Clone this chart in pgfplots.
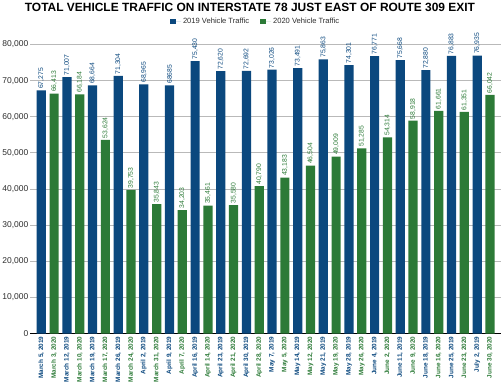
\documentclass[border=0pt]{standalone}
\usepackage{fontspec}
\setmainfont{Liberation Sans}
\usepackage{pgfplots}
\pgfplotsset{compat=1.18}
\usepackage{pgfplotstable}
\definecolor{bluec}{RGB}{11,72,126}
\definecolor{greenc}{RGB}{44,122,55}
\definecolor{gridc}{RGB}{185,185,185}
\definecolor{txtc}{RGB}{45,45,45}
\newcommand{\B}[1]{\textcolor{bluec}{#1}}
\newcommand{\G}[1]{\textcolor{greenc}{#1}}

\pgfplotstableread{
x y lab
0 67275 67,275
2 71007 71,007
4 68664 68,664
6 71304 71,304
8 68965 68,965
10 68685 68685
12 75430 75,430
14 72620 72,620
16 72692 72,692
18 73026 73,026
20 73491 73,491
22 75863 75,863
24 74301 74,301
26 76771 76,771
28 75668 75,668
30 72880 72,880
32 76883 76,883
34 76935 76,935
}\dataA

\pgfplotstableread{
x y lab
1 66413 66,413
3 66184 66,184
5 53624 53,624
7 39753 39,753
9 35843 35,843
11 34203 34,203
13 35461 35,461
15 35580 35,580
17 40790 40,790
19 43183 43,183
21 46504 46,504
23 49009 49,009
25 51285 51,285
27 54314 54,314
29 58918 58,918
31 61661 61,661
33 61351 61,351
35 66042 66,042
}\dataB

\begin{document}
\begin{tikzpicture}
\path[use as bounding box] (0,0) rectangle (501bp,392bp);
\begin{axis}[
  at={(30bp,58.3bp)}, anchor=south west,
  scale only axis, width=471bp, height=289.2bp,
  xmin=-0.88, xmax=35.86, ymin=0, ymax=80000,
  clip=false,
  axis lines*=left,
  y axis line style={draw=none},
  x axis line style={black, line width=1bp, -},
  ytick={0,10000,...,80000},
  ymajorgrids, grid style={gridc, line width=0.9bp},
  major tick length=0pt,
  /pgf/number format/assume math mode=true,
  /pgf/number format/1000 sep={,},
  scaled y ticks=false,
  yticklabel style={font=\fontsize{8.5}{10}\selectfont, text=txtc, inner sep=1.5bp},
  xtick={0,...,35},
  xticklabels={
    {\B{March 5, 2019}},{\G{March 3, 2020}},
    {\B{March 12, 2019}},{\G{March 10, 2020}},
    {\B{March 19, 2019}},{\G{March 17, 2020}},
    {\B{March 26, 2019}},{\G{March 24, 2020}},
    {\B{April 2, 2019}},{\G{March 31, 2020}},
    {\B{April 9, 2019}},{\G{April 7, 2020}},
    {\B{April 16, 2019}},{\G{April 14, 2020}},
    {\B{April 23, 2019}},{\G{April 21, 2020}},
    {\B{April 30, 2019}},{\G{April 28, 2020}},
    {\B{May 7, 2019}},{\G{May 5, 2020}},
    {\B{May 14, 2019}},{\G{May 12, 2020}},
    {\B{May 21, 2019}},{\G{May 19, 2020}},
    {\B{May 28, 2019}},{\G{May 26, 2020}},
    {\B{June 4, 2019}},{\G{June 2, 2020}},
    {\B{June 11, 2019}},{\G{June 9, 2020}},
    {\B{June 18, 2019}},{\G{June 16, 2020}},
    {\B{June 25, 2019}},{\G{June 23, 2020}},
    {\B{July 2, 2019}},{\G{June 30, 2020}}},
  xticklabel style={rotate=90, anchor=east, inner sep=2.8bp, font=\bfseries\fontsize{6.4}{7}\selectfont},
  legend style={at={(0.479,1.0795)}, anchor=center, draw=none, fill=none,
    legend columns=2, font=\fontsize{7.6}{9}\selectfont, text=txtc,
    /tikz/every even column/.append style={column sep=9bp}},
  point meta=explicit symbolic,
  nodes near coords,
  nodes near coords style={rotate=90, anchor=west, inner sep=1.5bp, font=\fontsize{6.8}{8}\selectfont},
]
\addplot[ybar, bar width=9.2bp, bar shift=0pt, fill=bluec, draw=none,
  nodes near coords style={text=bluec},
  legend image code/.code={\fill[bluec] (0bp,-2.8bp) rectangle (5.8bp,2.8bp); \path (5.8bp,0bp) -- (11bp,0bp);}]
  table[x=x, y=y, meta=lab] {\dataA};
\addlegendentry{2019 Vehicle Traffic}
\addplot[ybar, bar width=9.2bp, bar shift=0pt, fill=greenc, draw=none,
  nodes near coords style={text=greenc},
  legend image code/.code={\fill[greenc] (0bp,-2.8bp) rectangle (5.8bp,2.8bp); \path (5.8bp,0bp) -- (11bp,0bp);}]
  table[x=x, y=y, meta=lab] {\dataB};
\addlegendentry{2020 Vehicle Traffic}
\node[anchor=center, inner sep=0pt, font=\bfseries\fontsize{12}{14}\selectfont]
  at (rel axis cs:0.467,1.128) {TOTAL VEHICLE TRAFFIC ON INTERSTATE 78 JUST EAST OF ROUTE 309 EXIT};
\end{axis}
\end{tikzpicture}
\end{document}
